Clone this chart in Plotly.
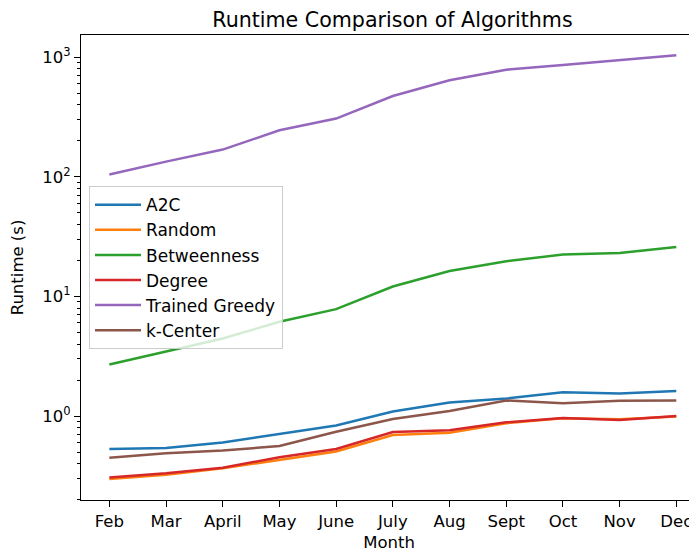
import plotly.graph_objects as go

months = ["Feb", "Mar", "April", "May", "June", "July", "Aug", "Sept", "Oct", "Nov", "Dec"]

a2c = [0.530, 0.541, 0.600, 0.710, 0.835, 1.09, 1.30, 1.40, 1.58, 1.54, 1.62]
random_ = [0.297, 0.323, 0.366, 0.430, 0.505, 0.695, 0.725, 0.870, 0.960, 0.940, 0.99]
betweenness = [2.70, 3.48, 4.45, 6.14, 7.83, 12.1, 16.3, 19.7, 22.4, 23.1, 25.9]
degree = [0.307, 0.332, 0.370, 0.452, 0.530, 0.735, 0.760, 0.886, 0.965, 0.927, 1.00]
trained_greedy = [104.5, 134, 169, 245, 307, 474, 641, 787, 861, 942, 1037]
k_center = [0.449, 0.488, 0.515, 0.561, 0.740, 0.945, 1.10, 1.35, 1.28, 1.34, 1.35]

series = [
    ("A2C", a2c, "#1f77b4"),
    ("Random", random_, "#ff7f0e"),
    ("Betweenness", betweenness, "#2ca02c"),
    ("Degree", degree, "#d62728"),
    ("Trained Greedy", trained_greedy, "#9467bd"),
    ("k-Center", k_center, "#8c564b"),
]

major_vals = [1, 10, 100, 1000]
major_text = ["10<sup>0</sup>", "10<sup>1</sup>", "10<sup>2</sup>", "10<sup>3</sup>"]
minor_vals = [m * 10 ** k for k in range(-1, 4) for m in range(2, 10)]

fig = go.Figure()
for name, vals, color in series:
    fig.add_trace(go.Scatter(
        x=months, y=vals, mode="lines", name=name,
        line=dict(color=color, width=2.5),
    ))

font = "DejaVu Sans"
fs = 16.5
fig.update_layout(
    width=689, height=546,
    margin=dict(l=73, r=0, t=27, b=54, autoexpand=False),
    paper_bgcolor="white", plot_bgcolor="white",
    font=dict(family=font, size=fs, color="black"),
    title=dict(text="Runtime Comparison of Algorithms", x=0.558, xref="container",
               xanchor="center", y=1 - 12 / 546, yref="container", yanchor="middle",
               font=dict(size=20.6, family=font, color="black")),
    showlegend=True,
    legend=dict(x=0.013, y=0.675, xanchor="left", yanchor="top",
                bgcolor="rgba(255,255,255,0.8)", bordercolor="#cccccc", borderwidth=1,
                font=dict(size=17, family=font, color="black"),
                traceorder="normal", itemwidth=46),
)
fig.update_xaxes(
    type="category", range=[-0.5, 10.365],
    showline=True, linecolor="black", linewidth=1.3, mirror=True,
    ticks="outside", ticklen=6, tickwidth=1.3, tickcolor="black",
    showgrid=False, zeroline=False,
    title=dict(text="Month", font=dict(size=fs, family=font), standoff=6),
    tickfont=dict(size=fs, family=font),
)
fig.update_yaxes(
    type="log", range=[-0.702, 3.186],
    showline=True, linecolor="black", linewidth=1.3, mirror=False,
    tickmode="array", tickvals=major_vals, ticktext=major_text,
    ticks="outside", ticklen=6, tickwidth=1.3, tickcolor="black",
    minor=dict(tickmode="array", tickvals=minor_vals, ticks="outside",
               ticklen=3.3, tickwidth=1, tickcolor="black", showgrid=False),
    showgrid=False, zeroline=False,
    title=dict(text="Runtime (s)", font=dict(size=fs, family=font), standoff=14),
    tickfont=dict(size=fs, family=font),
)

fig.write_html("out.html")
